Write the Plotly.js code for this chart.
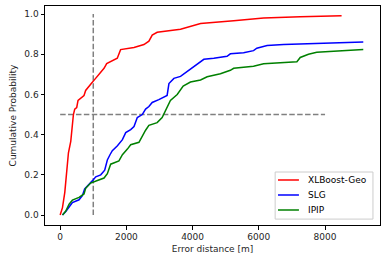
<!DOCTYPE html>
<html>
<head>
<meta charset="utf-8">
<script src="https://cdn.plot.ly/plotly-3.0.1.min.js"></script>
<style>html,body{margin:0;padding:0;background:#fff;}#chart{width:386px;height:262px;}</style>
</head>
<body>
<div id="chart"></div>
<script>
const seriesNames = ['XLBoost-Geo','SLG','IPIP'];
const seriesColors = ['#ff0000','#0000ff','#008000'];

const xgbX = [0,70,140,190,250,320,350,400,440,500,540,620,720,770,870,940,1020,1120,1225,1325,1405,1525,1725,1825,2230,2530,2680,2780,2930,3635,4240,5240,6145,7250,8500];
const xgbY = [0,0.037,0.113,0.19,0.31,0.367,0.417,0.50,0.527,0.535,0.57,0.58,0.595,0.62,0.637,0.654,0.67,0.69,0.71,0.73,0.753,0.763,0.78,0.823,0.834,0.848,0.865,0.895,0.909,0.924,0.953,0.966,0.98,0.986,0.991];

const slgX = [70,170,270,370,570,670,740,870,970,1075,1225,1345,1425,1505,1575,1730,1880,1980,2130,2230,2330,2480,2580,2680,2780,2980,3230,3285,3435,3635,3835,4035,4240,4340,4640,5040,5140,5540,5840,5940,6250,6750,9155];
const slgY = [0,0.017,0.04,0.062,0.076,0.096,0.13,0.15,0.17,0.19,0.2,0.223,0.274,0.3,0.32,0.345,0.375,0.41,0.425,0.44,0.485,0.5,0.527,0.54,0.56,0.574,0.595,0.654,0.68,0.69,0.713,0.738,0.76,0.775,0.78,0.79,0.802,0.807,0.818,0.83,0.843,0.848,0.861];

const ipipX = [70,170,270,370,570,720,770,920,1125,1325,1425,1525,1775,1880,2030,2130,2380,2480,2580,2680,2930,3080,3185,3330,3535,3715,3935,4240,4440,4840,5140,5240,5840,6145,7150,7250,7500,7750,9155];
const ipipY = [0,0.02,0.054,0.074,0.088,0.105,0.133,0.159,0.172,0.184,0.206,0.253,0.269,0.3,0.328,0.35,0.362,0.395,0.422,0.446,0.46,0.485,0.52,0.57,0.6,0.642,0.662,0.672,0.688,0.703,0.72,0.73,0.74,0.753,0.763,0.784,0.8,0.81,0.823];

const vLineX = [1000,1000];
const vLineY = [0,1];
const hLineX = [0,8000];
const hLineY = [0.5,0.5];

const xTicks = [0,2000,4000,6000,8000];
const yTicks = [0,0.2,0.4,0.6,0.8,1.0];

const font = {family:'DejaVu Sans', size:9, color:'#262626'};
const dash = {color:'#808080', width:1.5, dash:'5.5px,2.4px'};

const seriesX = [xgbX, slgX, ipipX];
const seriesY = [xgbY, slgY, ipipY];

const traces = [
  {x:vLineX, y:vLineY, mode:'lines', line:dash, showlegend:false, hoverinfo:'skip'},
  {x:hLineX, y:hLineY, mode:'lines', line:dash, showlegend:false, hoverinfo:'skip'}
];
seriesNames.forEach((n,i)=>{
  traces.push({x:seriesX[i], y:seriesY[i], mode:'lines', name:n, showlegend:false, line:{color:seriesColors[i], width:1.5}});
});

// hand-drawn legend box (matplotlib style, compact)
const shapes = [{type:'rect', xref:'paper', yref:'paper', x0:0.687, x1:0.979, y0:0.027, y1:0.242, line:{color:'#cccccc', width:1}, fillcolor:'rgba(255,255,255,0.8)', layer:'above'}];
const annotations = [];
const rowY = [0.2055, 0.137, 0.0685];
seriesNames.forEach((n,i)=>{
  shapes.push({type:'line', xref:'paper', yref:'paper', x0:0.6955, x1:0.758, y0:rowY[i], y1:rowY[i], line:{color:seriesColors[i], width:1.5}, layer:'above'});
  annotations.push({xref:'paper', yref:'paper', x:0.779, y:rowY[i], xanchor:'left', yanchor:'middle', text:n, showarrow:false, font:{family:'DejaVu Sans', size:9, color:'#000'}});
});

const axisCommon = {showline:true, mirror:true, linecolor:'#000', linewidth:1, ticks:'outside', ticklen:3.5, tickcolor:'#000', showgrid:false, zeroline:false, tickfont:font};

const layout = {
  width:386, height:262,
  margin:{l:45, r:6, t:6, b:37},
  paper_bgcolor:'#fff', plot_bgcolor:'#fff',
  font:font,
  xaxis:Object.assign({}, axisCommon, {range:[-458,9660], tickvals:xTicks, ticktext:xTicks.map(String), title:{text:'Error distance [m]', font:font, standoff:4}}),
  yaxis:Object.assign({}, axisCommon, {range:[-0.0495,1.04], tickvals:yTicks, ticktext:yTicks.map(v=>v.toFixed(1)), title:{text:'Cumulative Probability', font:font, standoff:6}}),
  shapes:shapes,
  annotations:annotations,
  showlegend:false
};

Plotly.newPlot('chart', traces, layout, {displayModeBar:false, staticPlot:true});
</script>
</body>
</html>
